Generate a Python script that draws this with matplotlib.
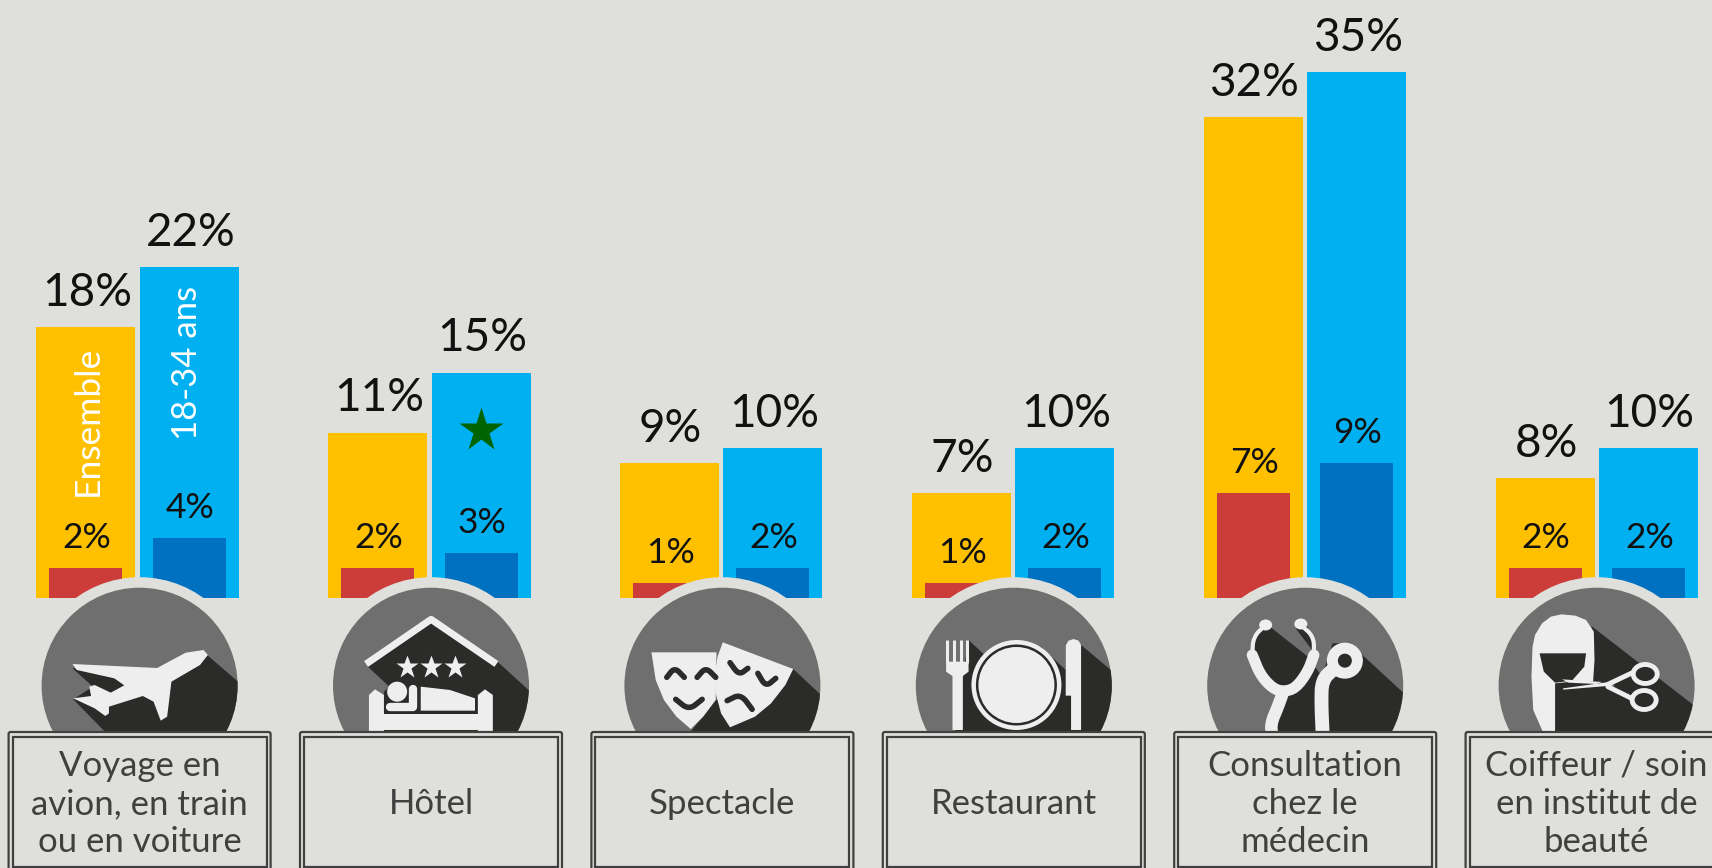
import matplotlib
matplotlib.use("Agg")
import matplotlib.pyplot as plt
from matplotlib.patches import Circle, Ellipse, Polygon, Rectangle, FancyBboxPatch
import numpy as np

categories = ["Voyage en\navion, en train\nou en voiture", "Hôtel", "Spectacle", "Restaurant",
              "Consultation\nchez le\nmédecin", "Coiffeur / soin\nen institut de\nbeauté"]
ensemble = [18, 11, 9, 7, 32, 8]
jeunes = [22, 15, 10, 10, 35, 10]
ensemble_inner = [2, 2, 1, 1, 7, 2]
jeunes_inner = [4, 3, 2, 2, 9, 2]

BG = "#DFE0DB"
ORANGE = "#FFC000"
BLUE = "#00B0F0"
RED = "#CC3D3A"
DARKBLUE = "#0070C0"
GREY = "#6F6F6F"
DARK = "#2B2B2A"
WHITE = "#EEEEEE"
TEXT = "#404040"
FONT = ["Lato", "DejaVu Sans"]

W, H = 1712, 868
STEP = 291.4
BAR_STEP = 291.84
X0 = 139.6
BASE = 598.0
PX_PER_PCT = 15.03

fig = plt.figure(figsize=(W / 100, H / 100), dpi=100, facecolor=BG)

# data axes: x in groups, y in percent, lined up with the pixel layout
ax = fig.add_axes([0, 0, 1, 1], facecolor=BG)
ax.set_xlim(-X0 / BAR_STEP, (W - X0) / BAR_STEP)
ax.set_ylim(-(H - BASE) / PX_PER_PCT, BASE / PX_PER_PCT)
ax.axis("off")

x = np.arange(len(categories))
shift = -2 / BAR_STEP
lab = -1 / BAR_STEP
off = 51.7 / BAR_STEP
bw = 99 / BAR_STEP
iw = 73 / BAR_STEP
ax.bar(x - off + shift, ensemble, bw, color=ORANGE, zorder=1)
ax.bar(x + off + shift, jeunes, bw, color=BLUE, zorder=1)
ax.bar(x - off + shift, ensemble_inner, iw, color=RED, zorder=2)
ax.bar(x + off + shift, jeunes_inner, iw, color=DARKBLUE, zorder=2)

for i in x:
    ax.annotate(f"{ensemble[i]}%", (i - off + lab, ensemble[i]), xytext=(0, 9.5), textcoords="offset points",
                ha="center", va="bottom", fontsize=33, color="#111111", family=FONT, zorder=3)
    ax.annotate(f"{jeunes[i]}%", (i + off + lab, jeunes[i]), xytext=(0, 9.5), textcoords="offset points",
                ha="center", va="bottom", fontsize=33, color="#111111", family=FONT, zorder=3)
    ax.annotate(f"{ensemble_inner[i]}%", (i - off + lab, ensemble_inner[i]), xytext=(0, 10), textcoords="offset points",
                ha="center", va="bottom", fontsize=25.5, color="#111111", family=FONT, zorder=3)
    ax.annotate(f"{jeunes_inner[i]}%", (i + off + lab, jeunes_inner[i]), xytext=(0, 10), textcoords="offset points",
                ha="center", va="bottom", fontsize=25.5, color="#111111", family=FONT, zorder=3)

ax.text(0 - off, 11.8, "Ensemble", rotation=90, color="white", fontsize=25.5, ha="center", va="center", family=FONT, zorder=3)
ax.text(0 + off - 4 / BAR_STEP, 15.65, "18-34 ans", rotation=90, color="white", fontsize=25, ha="center", va="center", family=FONT, zorder=3)
ax.plot([1 + off + shift], [11.2], marker="*", color="#006400", markersize=33, zorder=3, ls="none", mec="none")

# overlay in pixels for the pictograms and label boxes
ov = fig.add_axes([0, 0, 1, 1], facecolor="none")
ov.set_xlim(0, W)
ov.set_ylim(H, 0)
ov.axis("off")

CX = [X0 + STEP * i for i in range(6)]
CY = 685.7
R = 98.0
discs = []
for c in CX:
    ov.add_patch(Circle((c, CY), R + 10.5, color=BG, lw=0, zorder=4))
    d = Circle((c, CY), R, color=GREY, lw=0, zorder=5)
    ov.add_patch(d)
    discs.append(d)


def to_px(pts, xo, yo, sx=2.8):
    return [(xo + p[0] / sx, yo + p[1] / 3.0) for p in pts]


def smooth(pts, n=2, closed=True):
    p = np.array(pts, float)
    for _ in range(n):
        nxt = np.roll(p, -1, axis=0) if closed else p[1:]
        cur = p if closed else p[:-1]
        a = cur * 0.75 + nxt * 0.25
        b = cur * 0.25 + nxt * 0.75
        q = np.empty((a.shape[0] * 2, 2))
        q[0::2] = a
        q[1::2] = b
        if not closed:
            q = np.vstack([p[0], q, p[-1]])
        p = q
    return p


def poly(pts, color, z, clip=None):
    pat = Polygon(pts, closed=True, color=color, lw=0, zorder=z)
    ov.add_patch(pat)
    if clip is not None:
        pat.set_clip_path(clip)
    return pat


def line(pts, color, lw, z=7, rnd=True):
    arr = np.array(pts)
    ov.plot(arr[:, 0], arr[:, 1], color=color, lw=lw, zorder=z,
            solid_capstyle="round" if rnd else "butt", solid_joinstyle="round")


def circ(c, r, color, z=7):
    ov.add_patch(Circle(c, r, color=color, lw=0, zorder=z))


# plane
o = (0, 540)
poly(to_px([(203, 385), (260, 440), (205, 478), (300, 582), (672, 582), (672, 430), (580, 345), (440, 384)], *o), DARK, 6, discs[0])
poly(to_px([(203, 372), (440, 384), (520, 338), (570, 330), (582, 345), (560, 375), (480, 425), (468, 530),
            (450, 542), (430, 485), (400, 468), (305, 500), (305, 520), (295, 528), (265, 505), (205, 475),
            (255, 468), (250, 440), (265, 435), (310, 458), (348, 436), (320, 415), (215, 390)], *o), WHITE, 7)

# hotel
poly(to_px([(1030, 380), (1207, 250), (1393, 365), (1482, 452), (1482, 582), (1075, 582), (1075, 455), (1090, 440)], *o), DARK, 6, discs[1])
line(to_px([(1025, 372), (1207, 238), (1390, 372)], *o), WHITE, 5, rnd=False)
ov.plot([to_px([(zx, 0)], *o)[0][0] for zx in (1140, 1207, 1273)], [540 + 380 / 3] * 3, ls="none", marker="*",
        color=WHITE, mec="none", markersize=17, zorder=7)
poly(to_px([(1033, 465), (1050, 448), (1075, 465), (1075, 522), (1338, 522), (1338, 465), (1358, 448), (1380, 465),
            (1380, 582), (1338, 582), (1338, 570), (1075, 570), (1075, 582), (1033, 582)], *o), WHITE, 7)
poly(to_px([(1178, 440), (1260, 450), (1330, 475), (1330, 512), (1178, 512)], *o), WHITE, 7)
circ(to_px([(1112, 455)], *o)[0], 10, WHITE)
line(to_px([(1092, 500), (1157, 500), (1157, 447)], *o), WHITE, 6)

# theatre masks
o = (580, 560)
poly(to_px([(597, 327), (675, 405), (675, 522), (305, 522), (380, 420), (500, 400)], *o), DARK, 6, discs[2])
poly(to_px([(200, 277), (382, 277), (380, 420), (345, 470), (310, 507), (270, 470), (235, 420), (212, 360)], *o), WHITE, 7)
poly(to_px([(400, 247), (597, 327), (575, 375), (535, 430), (490, 470), (420, 502), (395, 460), (380, 400), (378, 340), (385, 290)], *o), WHITE, 8)
for pts, z in [([(243, 352), (265, 322), (292, 352)], 8), ([(328, 352), (352, 322), (380, 352)], 8),
               ([(268, 418), (305, 450), (342, 418)], 8), ([(420, 308), (445, 345), (470, 325)], 9),
               ([(498, 340), (520, 380), (548, 355)], 9), ([(412, 422), (450, 402), (482, 448)], 9)]:
    line(to_px(smooth(pts, 3, closed=False), *o), DARK, 4, z=z)

# cutlery
poly(to_px([(1072, 345), (1088, 240), (1130, 282), (1222, 300), (1290, 260), (1360, 330), (1360, 250), (1403, 255),
            (1492, 335), (1492, 522), (1050, 522)], *o), DARK, 6, discs[3])
for zx in (1029, 1047, 1067, 1085):
    line(to_px([(zx, 240), (zx, 310)], *o), WHITE, 2.2, rnd=False)
poly(to_px([(1025, 305), (1088, 305), (1088, 335), (1072, 348), (1072, 510), (1043, 510), (1043, 348), (1025, 335)], *o), WHITE, 7)
pc = to_px([(1222, 375)], *o)[0]
circ(pc, 45, WHITE)
circ(pc, 40.5, DARK, 7.1)
circ(pc, 38, WHITE, 7.2)
poly(to_px([(1360, 255), (1368, 242), (1382, 237), (1396, 242), (1403, 255), (1403, 510), (1375, 510), (1375, 407), (1360, 407)], *o), WHITE, 7)

# stethoscope
o = (1160, 560)
S = 2.84
poly(to_px([(300, 190), (420, 290), (460, 350), (490, 250), (525, 250), (575, 285), (695, 402), (695, 522),
            (300, 522), (330, 400), (270, 290), (262, 230)], *o, S), DARK, 6, discs[4])
poly(to_px([(385, 205), (415, 190), (440, 260), (432, 270)], *o, S), DARK, 6, discs[4])
line(to_px(smooth([(300, 195), (265, 230), (262, 285)], 3, closed=False), *o, S), WHITE, 3)
line(to_px(smooth([(437, 285), (437, 230), (400, 195)], 3, closed=False), *o, S), WHITE, 3)
line(to_px(smooth([(262, 285), (285, 345), (320, 385), (350, 395), (385, 385), (420, 335), (437, 285)], 2, closed=False), *o, S), WHITE, 8)
ov.add_patch(Ellipse(to_px([(300, 195)], *o, S)[0], 13, 11, color=WHITE, lw=0, zorder=7))
ov.add_patch(Ellipse(to_px([(400, 192)], *o, S)[0], 13, 11, color=WHITE, lw=0, zorder=7))
line(to_px(smooth([(350, 395), (335, 440), (315, 490), (318, 525)], 2, closed=False), *o, S), WHITE, 9, rnd=False)
line(to_px(smooth([(462, 525), (458, 430), (460, 360), (495, 325)], 2, closed=False), *o, S), WHITE, 10, rnd=False)
sc = to_px([(525, 302)], *o, S)[0]
circ(sc, 18, WHITE)
circ(sc, 7, DARK, 7.1)

# hair and scissors
poly(to_px([(1225, 198), (1515, 435), (1525, 522), (1122, 522), (1122, 370), (1232, 300)], *o, S), DARK, 6, discs[5])
poly(to_px([(1058, 260), (1065, 225), (1085, 190), (1110, 170), (1140, 163), (1180, 167), (1210, 180), (1232, 215),
            (1234, 300), (1230, 365), (1170, 365), (1122, 370), (1122, 522), (1090, 522), (1060, 450), (1055, 350)], *o, S), WHITE, 7)
poly(to_px([(1078, 280), (1210, 280), (1205, 320), (1170, 362), (1122, 368), (1090, 335)], *o, S), DARK, 7.1)
poly(to_px([(1145, 385), (1268, 367), (1292, 376), (1145, 389)], *o, S), WHITE, 7.2)
poly(to_px([(1142, 358), (1255, 366), (1240, 372), (1160, 368)], *o, S), WHITE, 7.2)
line(to_px([(1272, 373), (1348, 335)], *o, S), WHITE, 3.5, z=7.2)
line(to_px([(1272, 380), (1345, 418)], *o, S), WHITE, 3.5, z=7.2)
for zc in [(1378, 342), (1375, 420)]:
    ov.add_patch(Ellipse(to_px([zc], *o, S)[0], 24, 19, facecolor=DARK, edgecolor=WHITE, lw=3.5, zorder=7.3))

# label boxes, double ruled like the reference
for c, label in zip(CX, categories):
    ov.add_patch(FancyBboxPatch((c - 131, 732), 262, 150, boxstyle="round,pad=0,rounding_size=2",
                                facecolor=BG, edgecolor=TEXT, lw=1.6, zorder=10))
    ov.add_patch(Rectangle((c - 127, 736.5), 254, 130, facecolor=BG, edgecolor=TEXT, lw=1.6, zorder=11))
    ov.text(c, 804, label, ha="center", va="center", fontsize=25, color=TEXT, family=FONT,
            linespacing=1.25, zorder=12)

fig.savefig("out.png", dpi=100, facecolor=BG)
plt.close(fig)
